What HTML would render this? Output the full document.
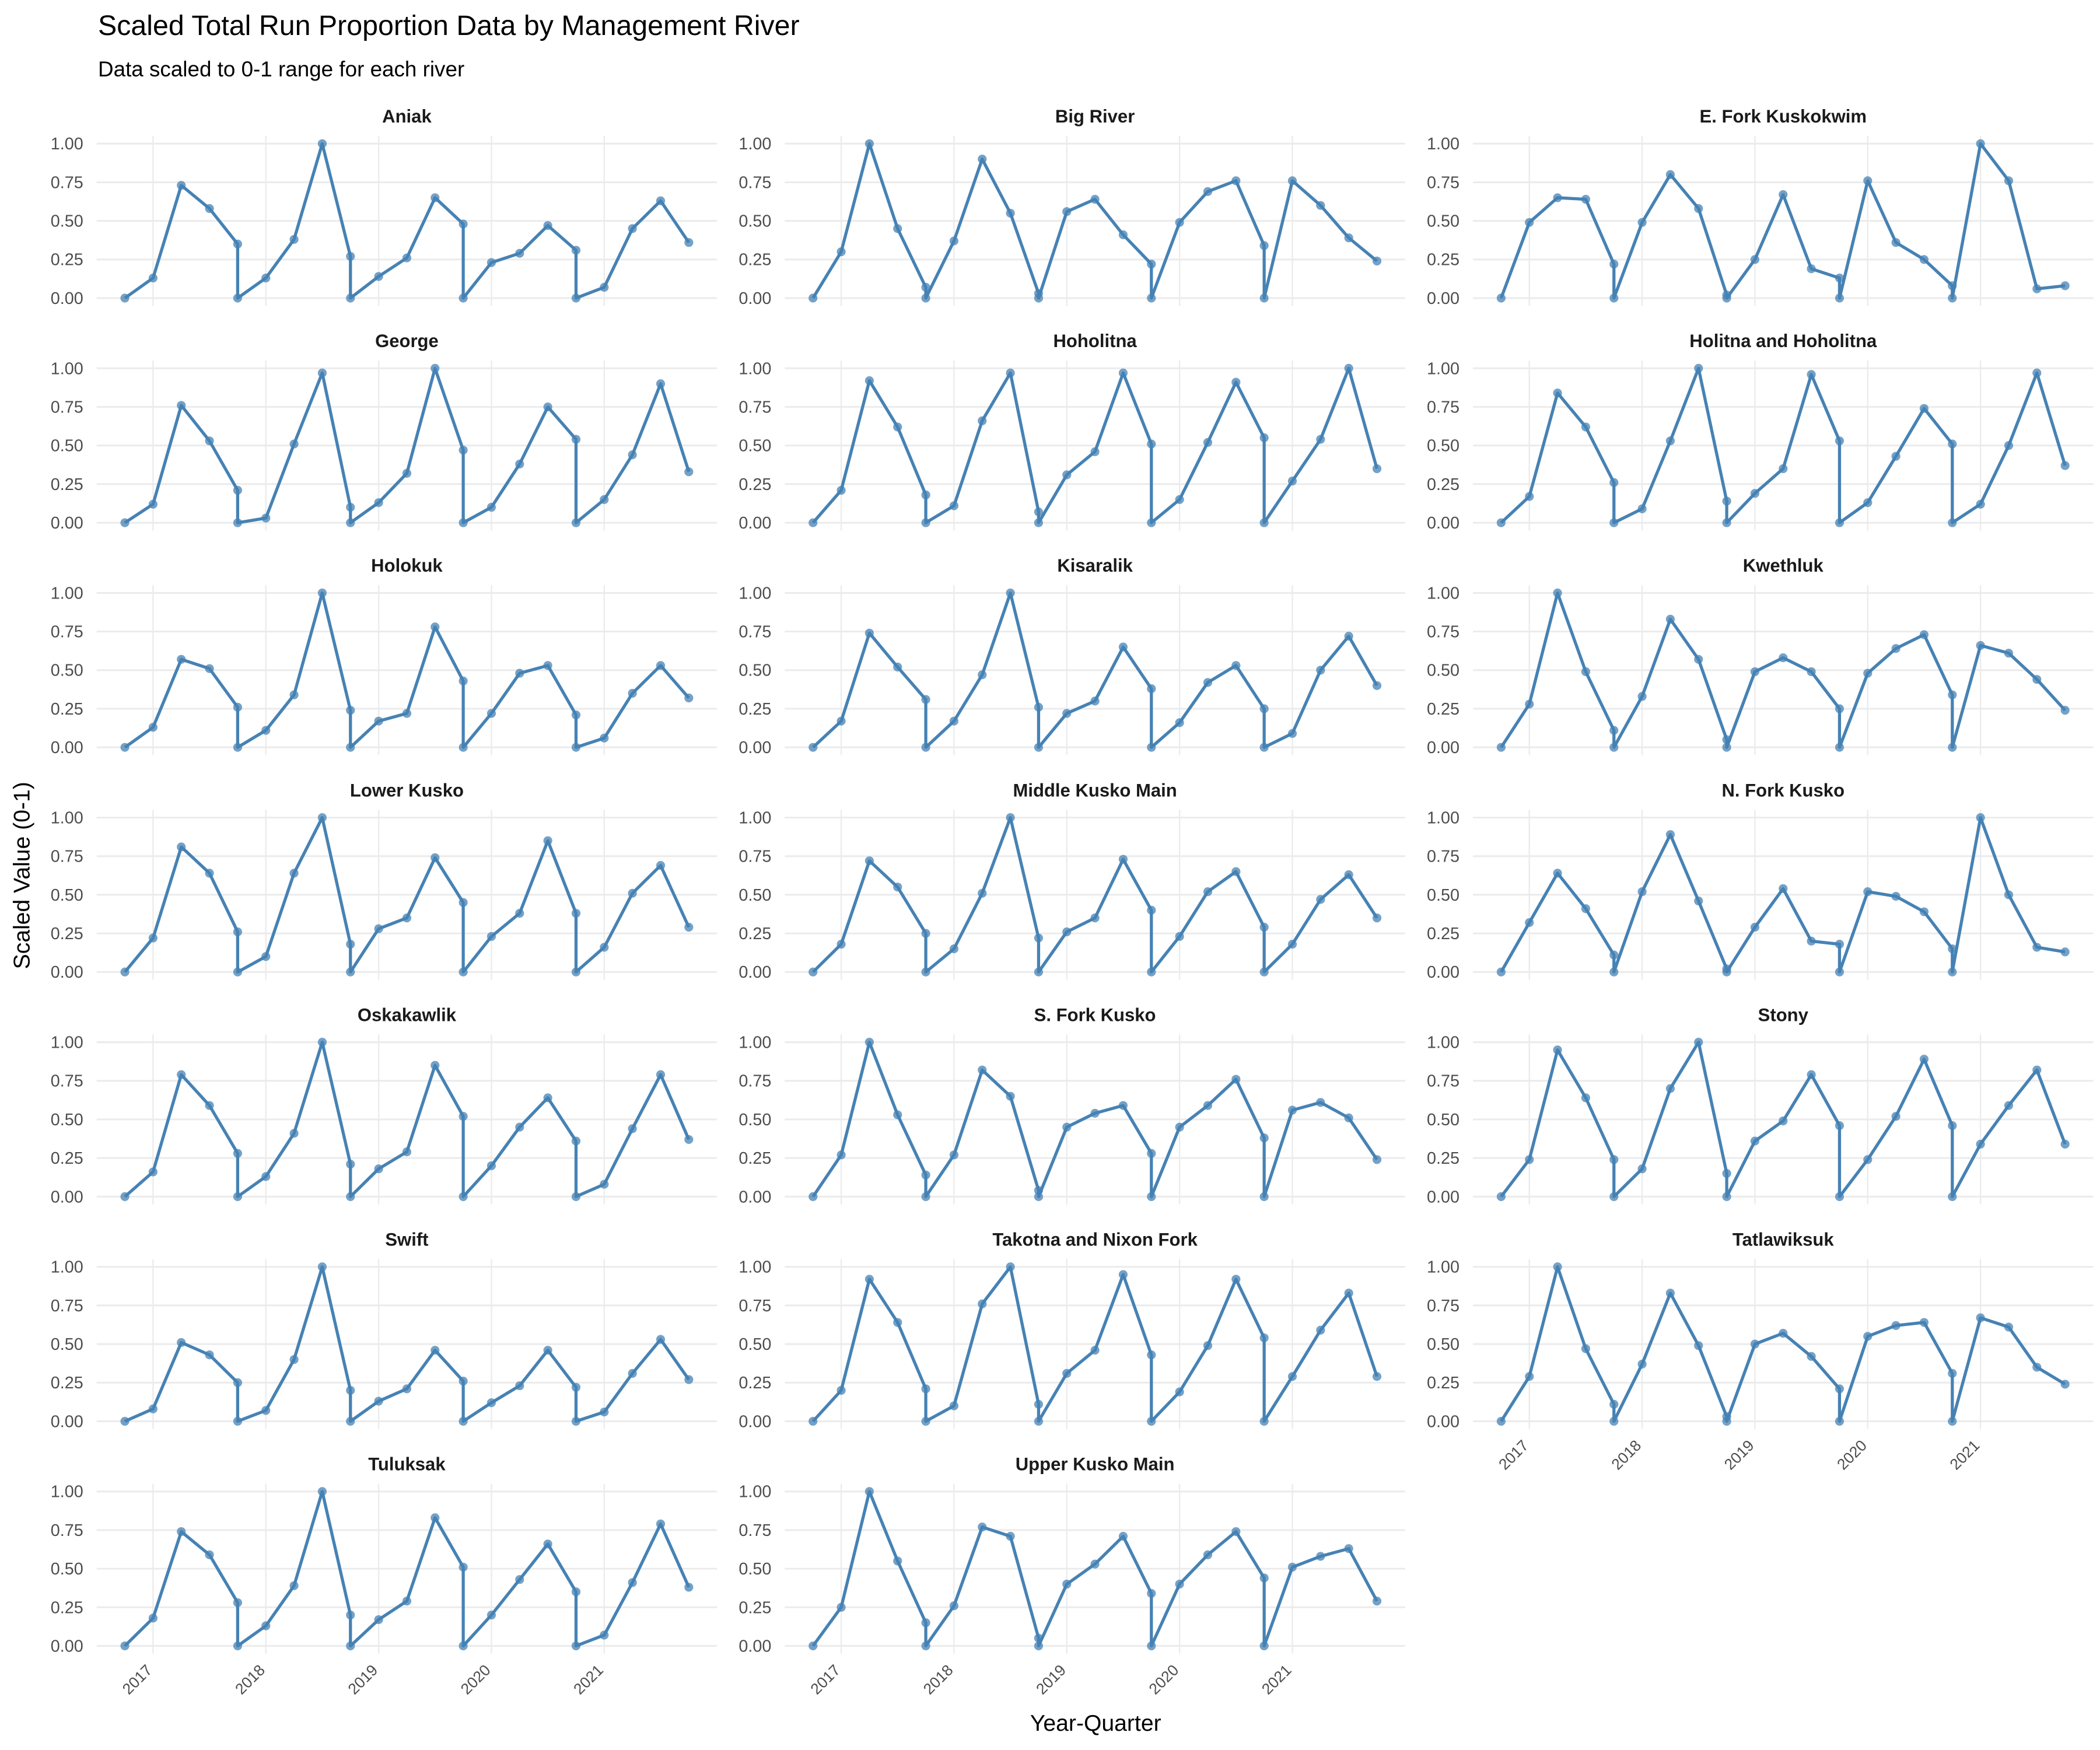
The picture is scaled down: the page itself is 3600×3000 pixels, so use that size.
<!DOCTYPE html>
<html><head><meta charset="utf-8"><style>
html,body{margin:0;padding:0;background:#fff;}
svg{display:block;font-family:"Liberation Sans",sans-serif;}
</style></head><body>
<svg id="chart" width="3600" height="3000" viewBox="0 0 1564 1303.33" xmlns="http://www.w3.org/2000/svg">
<rect width="1564" height="1303.33" fill="#fff"/>
<text x="73" y="26" font-size="21" fill="#000">Scaled Total Run Proportion Data by Management River</text>
<text x="73" y="57" font-size="16" fill="#000">Data scaled to 0-1 range for each river</text>
<text x="816" y="1289" font-size="17" text-anchor="middle" fill="#000">Year-Quarter</text>
<text transform="translate(22,652) rotate(-90)" font-size="17" text-anchor="middle" fill="#000">Scaled Value (0-1)</text>
<g id="panels"></g>
</svg>
<script>
const rivers = ["Aniak","Big River","E. Fork Kuskokwim","George","Hoholitna","Holitna and Hoholitna","Holokuk","Kisaralik","Kwethluk","Lower Kusko","Middle Kusko Main","N. Fork Kusko","Oskakawlik","S. Fork Kusko","Stony","Swift","Takotna and Nixon Fork","Tatlawiksuk","Tuluksak","Upper Kusko Main"];
const yTicks = [0,0.25,0.5,0.75,1];
const yTickLabels = ["0.00","0.25","0.50","0.75","1.00"];
const xTicks = [2017,2018,2019,2020,2021];
const xTickLabels = ["2017","2018","2019","2020","2021"];
const groupStarts = [2016.75,2017.75,2018.75,2019.75,2020.75];
const quarterOffsets = [0,0.25,0.5,0.75,1];
const vAniak = [0,.13,.73,.58,.35, 0,.13,.38,1.0,.27, 0,.14,.26,.65,.48, 0,.23,.29,.47,.31, 0,.07,.45,.63,.36];
const vBigRiver = [0,.30,1.0,.45,.07, 0,.37,.90,.55,.03, 0,.56,.64,.41,.22, 0,.49,.69,.76,.34, 0,.76,.60,.39,.24];
const vEFork = [0,.49,.65,.64,.22, 0,.49,.80,.58,.02, 0,.25,.67,.19,.13, 0,.76,.36,.25,.08, 0,1.0,.76,.06,.08];
const vGeorge = [0,.12,.76,.53,.21, 0,.03,.51,.97,.10, 0,.13,.32,1.0,.47, 0,.10,.38,.75,.54, 0,.15,.44,.90,.33];
const vHoholitna = [0,.21,.92,.62,.18, 0,.11,.66,.97,.07, 0,.31,.46,.97,.51, 0,.15,.52,.91,.55, 0,.27,.54,1.0,.35];
const vHolitnaHoholitna = [0,.17,.84,.62,.26, 0,.09,.53,1.0,.14, 0,.19,.35,.96,.53, 0,.13,.43,.74,.51, 0,.12,.50,.97,.37];
const vHolokuk = [0,.13,.57,.51,.26, 0,.11,.34,1.0,.24, 0,.17,.22,.78,.43, 0,.22,.48,.53,.21, 0,.06,.35,.53,.32];
const vKisaralik = [0,.17,.74,.52,.31, 0,.17,.47,1.0,.26, 0,.22,.30,.65,.38, 0,.16,.42,.53,.25, 0,.09,.50,.72,.40];
const vKwethluk = [0,.28,1.0,.49,.11, 0,.33,.83,.57,.05, 0,.49,.58,.49,.25, 0,.48,.64,.73,.34, 0,.66,.61,.44,.24];
const vLowerKusko = [0,.22,.81,.64,.26, 0,.10,.64,1.0,.18, 0,.28,.35,.74,.45, 0,.23,.38,.85,.38, 0,.16,.51,.69,.29];
const vMiddleKusko = [0,.18,.72,.55,.25, 0,.15,.51,1.0,.22, 0,.26,.35,.73,.40, 0,.23,.52,.65,.29, 0,.18,.47,.63,.35];
const vNForkKusko = [0,.32,.64,.41,.11, 0,.52,.89,.46,.02, 0,.29,.54,.20,.18, 0,.52,.49,.39,.15, 0,1.0,.50,.16,.13];
const vOskakawlik = [0,.16,.79,.59,.28, 0,.13,.41,1.0,.21, 0,.18,.29,.85,.52, 0,.20,.45,.64,.36, 0,.08,.44,.79,.37];
const vSForkKusko = [0,.27,1.0,.53,.14, 0,.27,.82,.65,.04, 0,.45,.54,.59,.28, 0,.45,.59,.76,.38, 0,.56,.61,.51,.24];
const vStony = [0,.24,.95,.64,.24, 0,.18,.70,1.0,.15, 0,.36,.49,.79,.46, 0,.24,.52,.89,.46, 0,.34,.59,.82,.34];
const vSwift = [0,.08,.51,.43,.25, 0,.07,.40,1.0,.20, 0,.13,.21,.46,.26, 0,.12,.23,.46,.22, 0,.06,.31,.53,.27];
const vTakotna = [0,.20,.92,.64,.21, 0,.10,.76,1.0,.11, 0,.31,.46,.95,.43, 0,.19,.49,.92,.54, 0,.29,.59,.83,.29];
const vTatlawiksuk = [0,.29,1.0,.47,.11, 0,.37,.83,.49,.03, 0,.50,.57,.42,.21, 0,.55,.62,.64,.31, 0,.67,.61,.35,.24];
const vTuluksak = [0,.18,.74,.59,.28, 0,.13,.39,1.0,.20, 0,.17,.29,.83,.51, 0,.20,.43,.66,.35, 0,.07,.41,.79,.38];
const vUpperKusko = [0,.25,1.0,.55,.15, 0,.26,.77,.71,.05, 0,.40,.53,.71,.34, 0,.40,.59,.74,.44, 0,.51,.58,.63,.29];
const seriesValues = [vAniak,vBigRiver,vEFork,vGeorge,vHoholitna,vHolitnaHoholitna,vHolokuk,vKisaralik,vKwethluk,vLowerKusko,vMiddleKusko,vNForkKusko,vOskakawlik,vSForkKusko,vStony,vSwift,vTakotna,vTatlawiksuk,vTuluksak,vUpperKusko];

const NS="http://www.w3.org/2000/svg";
const root=document.getElementById('panels');
function mk(tag,attrs,parent){const e=document.createElementNS(NS,tag);for(const k in attrs)e.setAttribute(k,attrs[k]);parent.appendChild(e);return e;}
const xDates=[];groupStarts.forEach(g=>quarterOffsets.forEach(q=>xDates.push(g+q)));
const xMin=2016.75,xMax=2021.75;
const PW=462,PH=126.5;
function panelOrigin(i){const c=i%3,r=Math.floor(i/3);return {x:72+512.5*c,y:101.25+167.3*r,c:c,r:r};}
function sx(o,d){const pad=(xMax-xMin)*0.05;return o.x+(d-(xMin-pad))/((xMax-xMin)+2*pad)*PW;}
function sy(o,v){return o.y+PH-(v+0.05)/1.1*PH;}
const n=rivers.length;
rivers.forEach((name,i)=>{
  const o=panelOrigin(i);
  const g=mk('g',{},root);
  
  
  const st=mk('text',{x:o.x+PW/2,y:o.y-10,'font-size':13.5,'font-weight':'bold','text-anchor':'middle',fill:'#1a1a1a'},g);
  st.textContent=name;
  
  
  xTicks.forEach(t=>{const l=mk('line',{x1:sx(o,t),x2:sx(o,t),y1:o.y,y2:o.y+PH,stroke:'#ebebeb','stroke-width':1},g);
    
    });
  yTicks.forEach((t,k)=>{const l=mk('line',{x1:o.x,x2:o.x+PW,y1:sy(o,t),y2:sy(o,t),stroke:'#ebebeb','stroke-width':1.3},g);
    
    
    const tx=mk('text',{x:o.x-10,y:sy(o,t)+4.3,'font-size':12.5,'text-anchor':'end',fill:'#4d4d4d'},g);
    tx.textContent=yTickLabels[k];
    
    });
  const vals=seriesValues[i];
  const pts=vals.map((v,k)=>sx(o,xDates[k]).toFixed(2)+','+sy(o,v).toFixed(2)).join(' ');
  const pl=mk('polyline',{points:pts,fill:'none',stroke:'#4682b4','stroke-width':2.3,'stroke-linejoin':'round'},g);
  
  
  vals.forEach((v,k)=>{const c=mk('circle',{cx:sx(o,xDates[k]),cy:sy(o,v),r:3.3,fill:'#4682b4','fill-opacity':0.75},g);
    
    });
  const bottom = (i>=n-3);
  if(bottom){
    xTicks.forEach((t,k)=>{const x=sx(o,t),y=o.y+PH+13;
      const tx=mk('text',{x:x,y:y,'font-size':11.5,'text-anchor':'end',fill:'#4d4d4d',transform:'rotate(-45 '+x+' '+y+')'},g);
      tx.textContent=xTickLabels[k];
      
      });
  }
});
</script>
</body></html>
